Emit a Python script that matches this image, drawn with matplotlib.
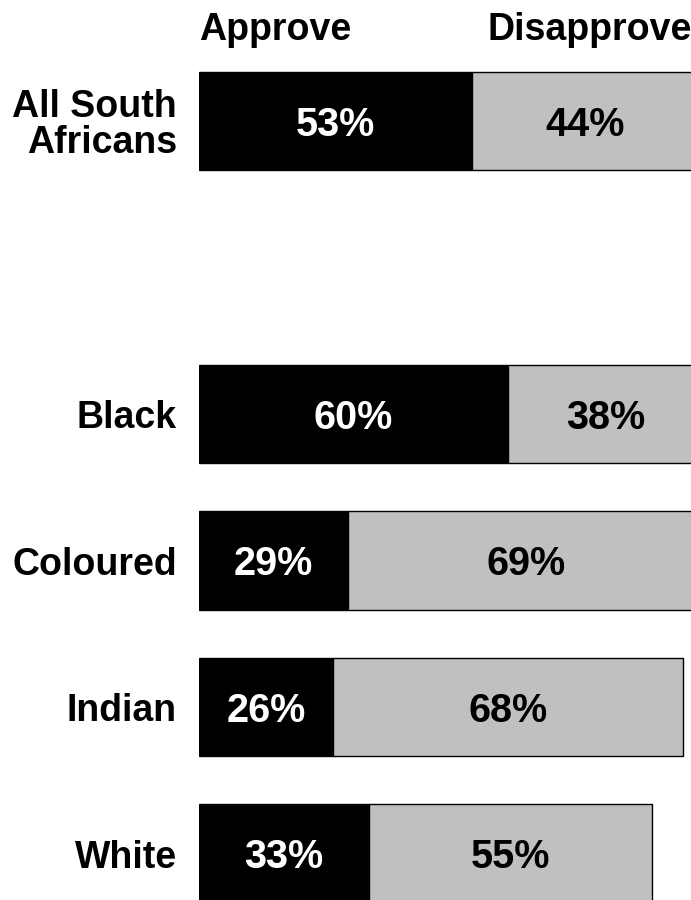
import matplotlib.pyplot as plt

plt.rcParams['font.family'] = ['Liberation Sans', 'DejaVu Sans']
plt.rcParams['font.weight'] = 'bold'

groups = ["All South\nAfricans", "Black", "Coloured", "Indian", "White"]
rows = [0, 2, 3, 4, 5]
approve = [53, 60, 29, 26, 33]
disapprove = [44, 38, 69, 68, 55]

fig = plt.figure(figsize=(6.91, 9), dpi=100)
ax = fig.add_axes([199 / 691, 0, 492 / 691, 1])

h = 0.67
ax.barh(rows, approve, height=h, color="black", edgecolor="black", linewidth=1)
ax.barh(rows, disapprove, left=approve, height=h, color="#c0c0c0",
        edgecolor="black", linewidth=1)

# baseline a bit below the bar centre so the digits look centred
for r, a, d in zip(rows, approve, disapprove):
    ax.text(a / 2, r + 0.1, f"{a}%", color="white", ha="center", va="baseline", fontsize=28.5)
    ax.text(a + d / 2, r + 0.1, f"{d}%", color="black", ha="center", va="baseline", fontsize=28.5)

ax.text(14.8, -0.553, "Approve", ha="center", va="baseline", fontsize=27)
ax.text(75.9, -0.553, "Disapprove", ha="center", va="baseline", fontsize=27)

ax.set_xlim(0, 95.5)
ax.set_ylim(5.317, -0.826)
ax.set_yticks(rows)
ax.set_yticklabels(groups, fontsize=27, fontweight="bold", linespacing=1.0)
ax.tick_params(axis="y", length=0, pad=16)
ax.set_xticks([])
for s in ax.spines.values():
    s.set_visible(False)

fig.savefig("out.png", dpi=100)
